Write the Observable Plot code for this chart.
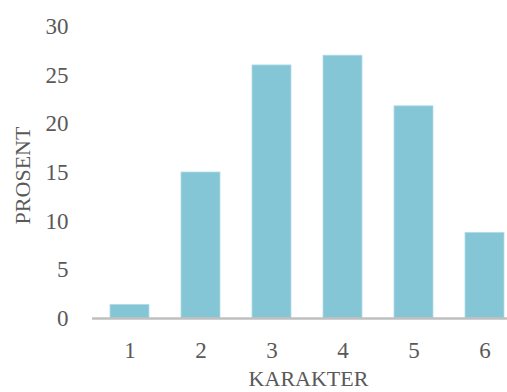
<!DOCTYPE html>
<html>
<head>
<meta charset="utf-8">
<script src="https://cdn.jsdelivr.net/npm/d3@7"></script>
<script src="https://cdn.jsdelivr.net/npm/@observablehq/plot@0.6"></script>
<style>
  html, body { margin: 0; padding: 0; background: #fff; }
  #chart svg { display: block; }
</style>
</head>
<body>
<div id="chart"></div>
<script>
// Grade distribution (percent of students per grade)
const grades = ["1", "2", "3", "4", "5", "6"];
const percent = [1.4, 15, 26, 27, 21.8, 8.8];
const yTicks = [0, 5, 10, 15, 20, 25, 30];

const rows = grades.map((g, i) => ({grade: g, value: percent[i]}));

const textColor = "#595959";
const font = "'Liberation Serif', 'Times New Roman', serif";

const chart = Plot.plot({
  width: 507,
  height: 392,
  marginLeft: 92,
  marginRight: 0,
  marginTop: 26,
  marginBottom: 74,
  style: {fontFamily: font, fontSize: "22px", color: textColor, background: "#fff"},
  // each grade gets an equal slot; the last slot runs past the right edge
  x: {domain: grades, range: [92, 521], paddingInner: 0.455, paddingOuter: 0.2275},
  y: {domain: [0, 30]},
  marks: [
    Plot.barY(rows, {x: "grade", y: "value", fill: "#84c5d6", stroke: "#b3dbe6", strokeWidth: 0.8}),
    Plot.ruleY([0], {stroke: "#bfbfbf", strokeWidth: 2.6}),
    Plot.axisY(yTicks, {tickSize: 0, tickPadding: 24, label: null, fill: textColor, fontSize: 23}),
    Plot.axisX({tickSize: 0, tickPadding: 23, label: null, fill: textColor, fontSize: 23}),
    Plot.text(["PROSENT"], {frameAnchor: "left", dx: -70, dy: 3, rotate: -90, fill: textColor, fontSize: 22, textAnchor: "middle", lineAnchor: "middle"}),
    Plot.text(["KARAKTER"], {frameAnchor: "bottom", dx: 8.5, dy: 60, fill: textColor, fontSize: 22, textAnchor: "middle", lineAnchor: "middle"})
  ]
});

document.getElementById("chart").append(chart);
</script>
</body>
</html>
